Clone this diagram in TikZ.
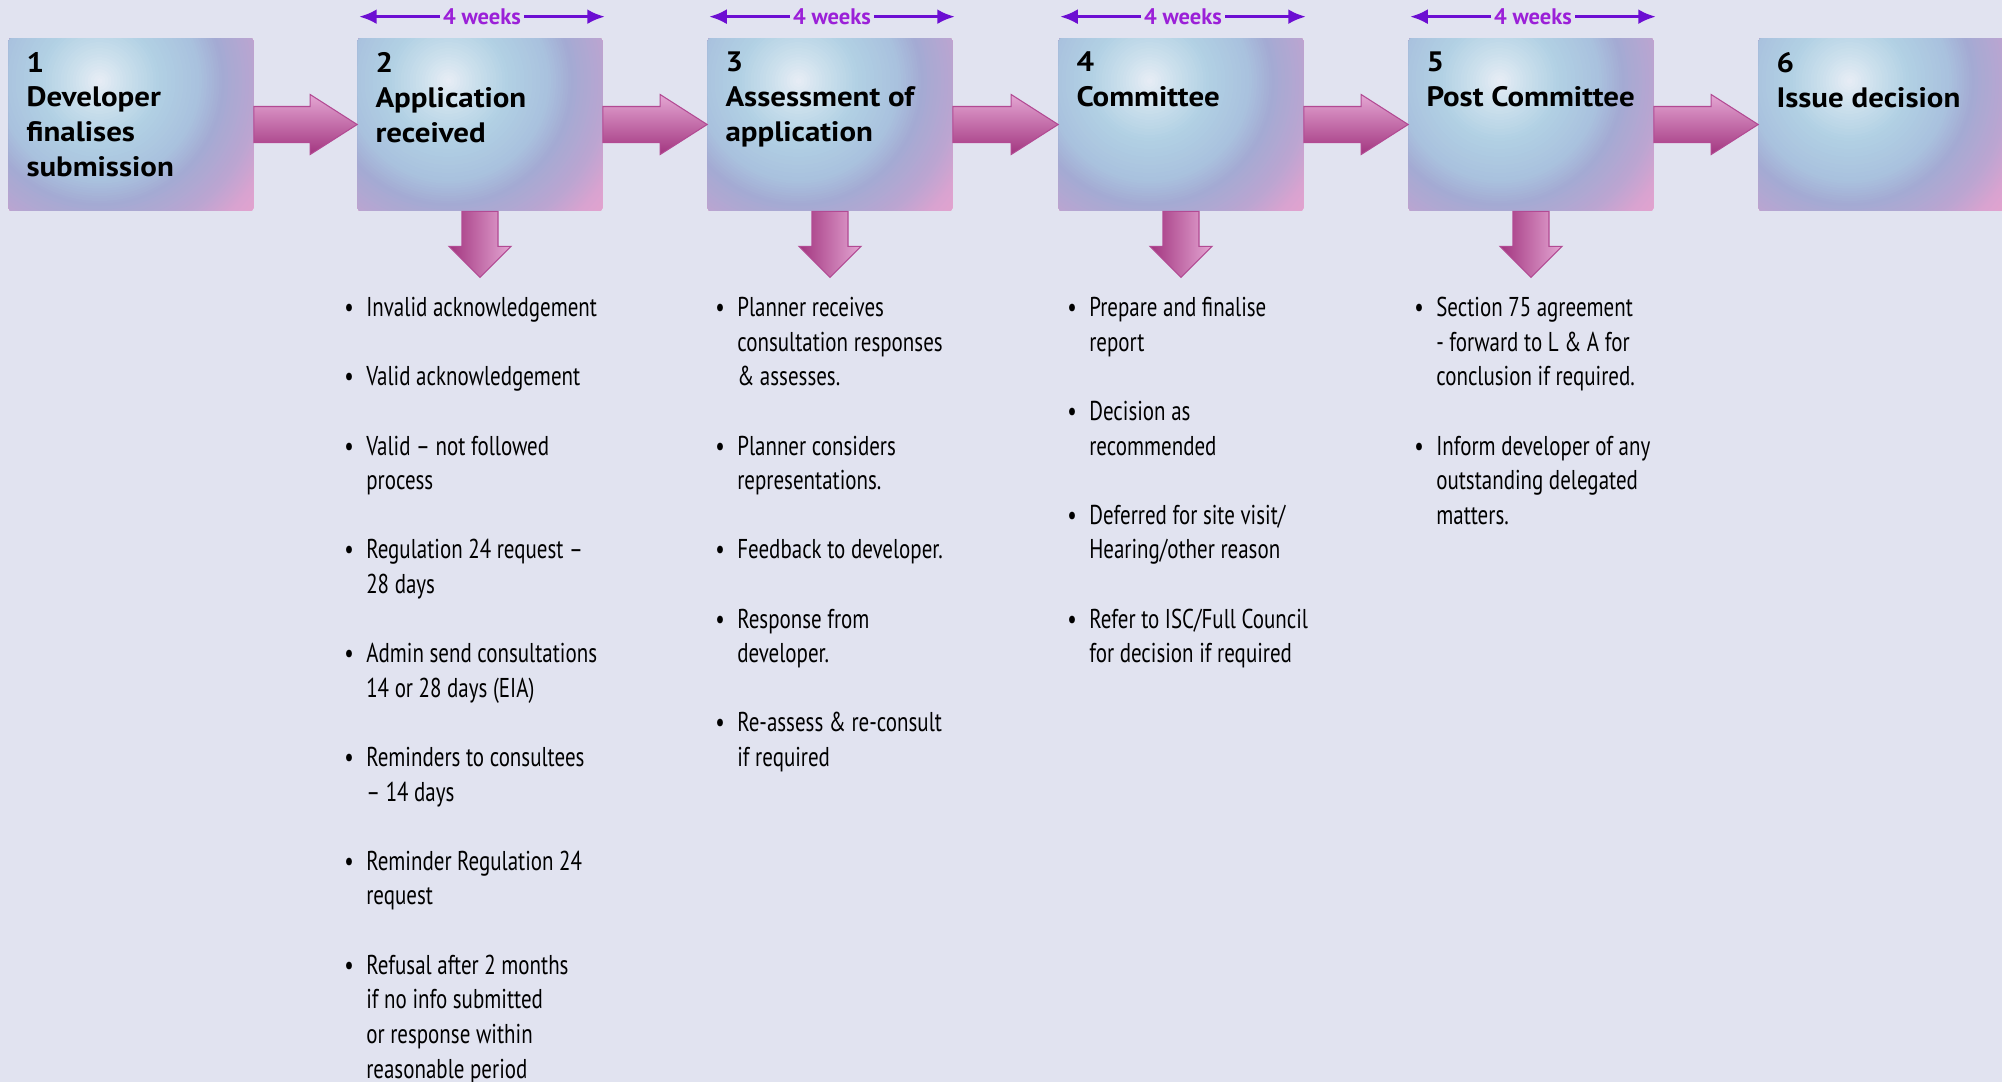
\documentclass[tikz,border=0pt]{standalone}
\usepackage{fontspec}
\setmainfont{PT Sans}
\newfontfamily\titlefont[FakeStretch=1.1]{PT Sans}
\newfontfamily\listfont[FakeStretch=0.77]{PT Sans}
\usetikzlibrary{arrows.meta,calc}

\definecolor{paper}{HTML}{E1E3F0}
\definecolor{glow0}{HTML}{E9EEF6}
\definecolor{glow1}{HTML}{CADFEC}
\definecolor{glow2}{HTML}{B2D1E4}
\definecolor{glow3}{HTML}{A9C2DE}
\definecolor{glow4}{HTML}{A4AAD3}
\definecolor{glow5}{HTML}{BBA5D1}
\definecolor{glow6}{HTML}{D8A3D0}
\definecolor{glow7}{HTML}{F0A2CE}
\definecolor{arrowlight}{HTML}{E4A6D3}
\definecolor{arrowmid}{HTML}{C866A8}
\definecolor{arrowdark}{HTML}{A2357F}
\definecolor{arrowedge}{HTML}{B24A93}
\definecolor{spanline}{HTML}{6C0ED2}
\definecolor{spantext}{HTML}{9B20D8}

\newcommand\bl{\makebox[12.5pt][l]{\textbullet}}
\newcommand\ind{\hspace*{12.5pt}}

\tikzset{
  stage/.style={minimum width=4.9cm, minimum height=3.46cm, inner sep=0pt,
    rounded corners=2pt, fill=glow7,
    path picture={
      \coordinate (gc) at ($(path picture bounding box.north west)+(91,43)$);
      % rings from the pink rim in to the pale centre
      \foreach \ra/\rb/\ca/\cb in {230/185/glow7/glow6, 185/160/glow6/glow5,
          160/125/glow5/glow4, 125/100/glow4/glow3, 100/60/glow3/glow2,
          60/30/glow2/glow1, 30/0/glow1/glow0}
        \foreach \k in {0,10,...,90}
          \fill[fill=\cb!\k!\ca] (gc) circle [radius={(\ra-(\ra-\rb)*\k/100)*0.02cm}];
    }},
  title/.style={anchor=north west, inner sep=0pt, align=left,
    font=\titlefont\bfseries\fontsize{16}{19.9}\selectfont},
  list/.style={anchor=north west, inner sep=0pt,
    font=\listfont\fontsize{15.5}{19.7}\selectfont},
  fat/.style={draw=arrowedge, line width=0.6pt, line join=miter},
  span/.style={draw=spanline, line width=1.7pt,
    {Latex[length=10pt,width=8.5pt]}-{Latex[length=10pt,width=8.5pt]}},
  weeks/.style={fill=paper, text=spantext, inner xsep=2pt, inner ysep=0pt,
    font=\bfseries\fontsize{12.8}{14}\selectfont}
}

\begin{document}
\begin{tikzpicture}[x=0.02cm, y=-0.02cm]
    % page
    \fill[paper] (0,0) rectangle (2002,1082);
    \useasboundingbox (0,0) rectangle (2002,1082);

    % stages
    \foreach \i/\x/\t in {1/131/{Developer\\finalises\\submission},
        2/480/{Application\\received}, 3/830/{Assessment of\\application},
        4/1181/{Committee}, 5/1531/{Post Committee}, 6/1881/{Issue decision}} {
      \node[stage] (b\i) at (\x,124.5) {};
      \node[title] (t\i) at ($(b\i.north west)+(18,14)$) {\i\\\t};
    }

    % arrows from stage to stage
    \foreach \a/\b in {1/2, 2/3, 3/4, 4/5, 5/6}
      \draw[fat, top color=arrowlight, middle color=arrowmid, bottom color=arrowdark]
        ($(b\a.east)+(0,-18)$) -- ($(b\b.west)+(-47,-18)$)
        -- ($(b\b.west)+(-47,-30)$) -- (b\b.west)
        -- ($(b\b.west)+(-47,30)$) -- ($(b\b.west)+(-47,18)$)
        -- ($(b\a.east)+(0,18)$) -- cycle;

    % arrows down to the lists, and the time spans
    \foreach \i in {2,...,5} {
      \coordinate (d\i) at ($(b\i.south)+(0,66)$);
      \draw[fat, left color=arrowdark, right color=arrowlight]
        ($(b\i.south)+(-18,0)$) -- ($(d\i)+(-18,-31)$)
        -- ($(d\i)+(-31,-31)$) -- (d\i) -- ($(d\i)+(31,-31)$)
        -- ($(d\i)+(18,-31)$) -- ($(b\i.south)+(18,0)$) -- cycle;
      \draw[span] ($(b\i.north west)+(2,-21)$)
        -- node[weeks] (w\i) {4 weeks} ($(b\i.north east)+(2,-21)$);
    }

    % lists
    \node[list] (l2) at (344,292) {\begin{tabular}{@{}l@{}}
      \bl Invalid acknowledgement\\ \\
      \bl Valid acknowledgement\\ \\
      \bl Valid – not followed\\ \ind process\\ \\
      \bl Regulation 24 request –\\ \ind 28 days\\ \\
      \bl Admin send consultations\\ \ind 14 or 28 days (EIA)\\ \\
      \bl Reminders to consultees\\ \ind – 14 days\\ \\
      \bl Reminder Regulation 24\\ \ind request\\ \\
      \bl Refusal after 2 months\\ \ind if no info submitted\\
      \ind or response within\\ \ind reasonable period
    \end{tabular}};
    \node[list] (l3) at (715,292) {\begin{tabular}{@{}l@{}}
      \bl Planner receives\\ \ind consultation responses\\ \ind \& assesses.\\ \\
      \bl Planner considers\\ \ind representations.\\ \\
      \bl Feedback to developer.\\ \\
      \bl Response from\\ \ind developer.\\ \\
      \bl Re-assess \& re-consult\\ \ind if required
    \end{tabular}};
    \node[list] (l4) at (1067,292) {\begin{tabular}{@{}l@{}}
      \bl Prepare and finalise\\ \ind report\\ \\
      \bl Decision as\\ \ind recommended\\ \\
      \bl Deferred for site visit/\\ \ind Hearing/other reason\\ \\
      \bl Refer to ISC/Full Council\\ \ind for decision if required
    \end{tabular}};
    \node[list] (l5) at (1414,292) {\begin{tabular}{@{}l@{}}
      \bl Section 75 agreement\\ \ind - forward to L \& A for\\
      \ind conclusion if required.\\ \\
      \bl Inform developer of any\\ \ind outstanding delegated\\ \ind matters.
    \end{tabular}};
\end{tikzpicture}
\end{document}
